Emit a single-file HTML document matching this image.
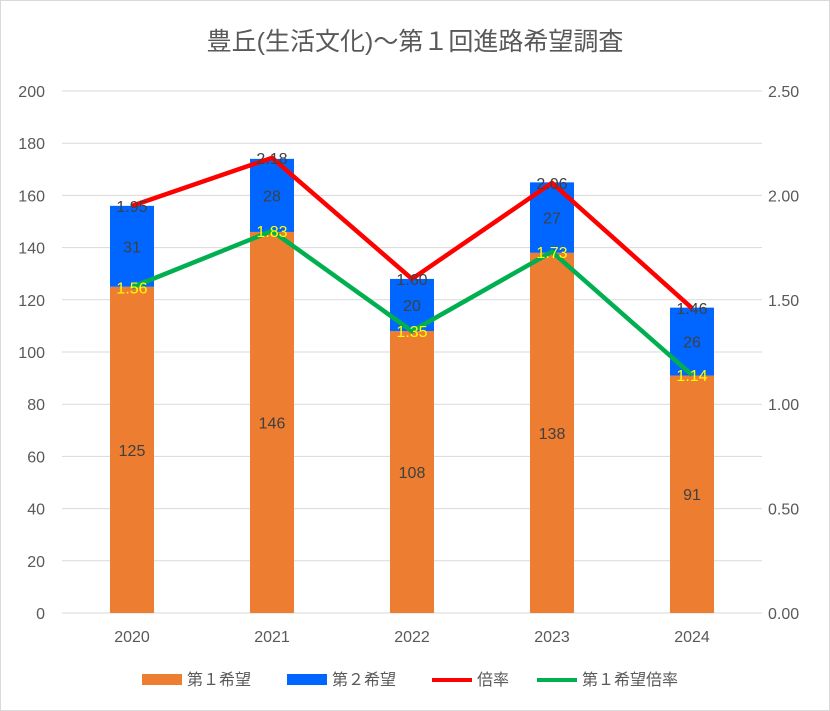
<!DOCTYPE html>
<html><head><meta charset="utf-8"><style>
body{margin:0;background:#fff;}
svg{display:block;font-family:"Liberation Sans","Noto Sans CJK JP",sans-serif;}
</style></head><body>
<svg id="c" width="830" height="711">
<rect x="0.5" y="0.5" width="829" height="710" fill="#fff" stroke="#d9d9d9"/>
<text x="415" y="50" text-anchor="middle" font-size="25" fill="#595959">豊丘(生活文化)～第１回進路希望調査</text>
<g id="grid"></g><g id="bars"></g><g id="lines"></g><g id="labels"></g><g id="axes"></g>
<g id="legend" font-size="16" fill="#595959">
<rect x="142" y="674" width="40" height="11" fill="#ed7d31"/>
<text x="187" y="685">第１希望</text>
<rect x="287" y="674" width="40" height="11" fill="#0066ff"/>
<text x="332" y="685">第２希望</text>
<line x1="432" y1="680" x2="472" y2="680" stroke="#ff0000" stroke-width="4"/>
<text x="477" y="685">倍率</text>
<line x1="537" y1="680" x2="577" y2="680" stroke="#00b050" stroke-width="4"/>
<text x="582" y="685">第１希望倍率</text>
</g>
</svg>
<script>
const categories=["2020","2021","2022","2023","2024"];
const first=[125,146,108,138,91];
const second=[31,28,20,27,26];
const ratio=[1.95,2.18,1.60,2.06,1.46];
const firstRatio=[1.56,1.83,1.35,1.73,1.14];
const leftTicks=[0,20,40,60,80,100,120,140,160,180,200];
const rightTicks=[0,0.5,1,1.5,2,2.5];
const NS="http://www.w3.org/2000/svg";
const X0=62,X1=762,Y0=613,Y1=91;
const yL=v=>Y0-(v/200)*(Y0-Y1);
const yR=v=>Y0-(v/2.5)*(Y0-Y1);
const xC=i=>X0+(i+0.5)*(X1-X0)/categories.length;
const BW=44;
function mk(tag,attrs,parent,text){const e=document.createElementNS(NS,tag);for(const k in attrs)e.setAttribute(k,attrs[k]);if(text!==undefined)e.textContent=text;document.getElementById(parent).appendChild(e);return e;}
leftTicks.forEach(t=>{
 const g=mk('line',{x1:X0,x2:X1,y1:yL(t),y2:yL(t),stroke:'#d9d9d9','stroke-width':1},'grid');
 
 
 const l=mk('text',{x:45,y:yL(t)+6,'text-anchor':'end','font-size':16,fill:'#595959'},'axes',String(t));
 
 
});
rightTicks.forEach(t=>{
 const l=mk('text',{x:768,y:yR(t)+6,'font-size':16,fill:'#595959'},'axes',t.toFixed(2));
 
 
});
categories.forEach((c,i)=>{
 const x=xC(i);
 const l=mk('text',{x:x,y:642,'text-anchor':'middle','font-size':16,fill:'#595959'},'axes',c);
 
 
 const b1=mk('rect',{x:x-BW/2,y:yL(first[i]),width:BW,height:Y0-yL(first[i]),fill:'#ed7d31'},'bars');
 
 
 const b2=mk('rect',{x:x-BW/2,y:yL(first[i]+second[i]),width:BW,height:yL(first[i])-yL(first[i]+second[i]),fill:'#0066ff'},'bars');
 
 
 const t1=mk('text',{x:x,y:(yL(first[i])+Y0)/2+6,'text-anchor':'middle','font-size':16,fill:'#404040'},'labels',String(first[i]));
 
 
 const t2=mk('text',{x:x,y:(yL(first[i])+yL(first[i]+second[i]))/2+6,'text-anchor':'middle','font-size':16,fill:'#404040'},'labels',String(second[i]));
 
 
 const t3=mk('text',{x:x,y:yR(ratio[i])+6,'text-anchor':'middle','font-size':16,fill:'#404040'},'labels',ratio[i].toFixed(2));
 
 
 const t4=mk('text',{x:x,y:yR(firstRatio[i])+6,'text-anchor':'middle','font-size':16,fill:'#ffff00'},'labels',firstRatio[i].toFixed(2));
 
 
});
const p1=mk('polyline',{points:ratio.map((v,i)=>xC(i)+','+yR(v)).join(' '),fill:'none',stroke:'#ff0000','stroke-width':4.5,'stroke-linejoin':'round'},'lines');


const p2=mk('polyline',{points:firstRatio.map((v,i)=>xC(i)+','+yR(v)).join(' '),fill:'none',stroke:'#00b050','stroke-width':4.5,'stroke-linejoin':'round'},'lines');


</script>
</body></html>
